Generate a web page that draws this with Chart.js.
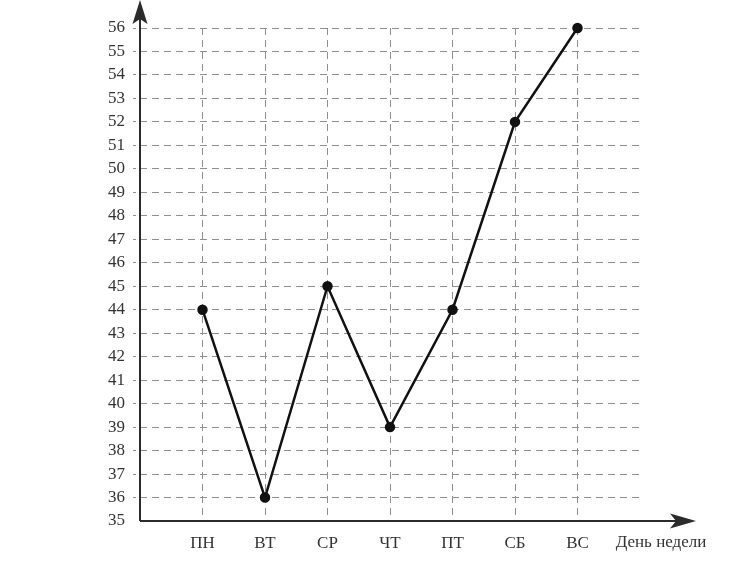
<!DOCTYPE html>
<html>
<head>
<meta charset="utf-8">
<script src="https://cdn.jsdelivr.net/npm/chart.js@4.4.0/dist/chart.umd.min.js"></script>
<style>
  html, body { margin: 0; padding: 0; background: #fff; }
  #wrap { width: 731px; height: 563px; }
</style>
</head>
<body>
<div id="wrap"><canvas id="chart" width="731" height="563"></canvas></div>
<script>
const days = ["ПН", "ВТ", "СР", "ЧТ", "ПТ", "СБ", "ВС"];
const values = [44, 36, 45, 39, 44, 52, 56];
const yMin = 35, yMax = 56;
const xAxisTitle = "День недели";

const FONT = "'Liberation Serif', 'DejaVu Serif', serif";
const GRID = "#8f8f8f";
const AXIS = "#2b2b2b";
const DASH = [7, 5];

// axes with arrow heads + x axis caption
const arrowAxes = {
  id: "arrowAxes",
  afterDraw(chart) {
    const { ctx, chartArea } = chart;
    const x0 = chartArea.left, y0 = chartArea.bottom;
    ctx.save();
    ctx.strokeStyle = AXIS;
    ctx.fillStyle = AXIS;
    ctx.lineWidth = 2;
    ctx.beginPath();
    ctx.moveTo(x0, y0);
    ctx.lineTo(x0, 12);
    ctx.moveTo(x0, y0);
    ctx.lineTo(685, y0);
    ctx.stroke();

    // up arrow
    ctx.beginPath();
    ctx.moveTo(x0, 0);
    ctx.lineTo(x0 + 7.5, 24);
    ctx.lineTo(x0, 19);
    ctx.lineTo(x0 - 7.5, 24);
    ctx.closePath();
    ctx.fill();

    // right arrow
    ctx.beginPath();
    ctx.moveTo(696, y0);
    ctx.lineTo(670, y0 - 7.5);
    ctx.lineTo(676, y0);
    ctx.lineTo(670, y0 + 7.5);
    ctx.closePath();
    ctx.fill();

    ctx.font = "17px " + FONT;
    ctx.fillStyle = "#333";
    ctx.textAlign = "center";
    ctx.textBaseline = "middle";
    ctx.fillText(xAxisTitle, 661, 543);
    ctx.restore();
  }
};

new Chart(document.getElementById("chart"), {
  type: "line",
  data: {
    datasets: [{
      data: days.map((d, i) => ({ x: i + 1, y: values[i] })),
      borderColor: "#111",
      borderWidth: 2.5,
      pointRadius: 4,
      pointBackgroundColor: "#111",
      pointBorderColor: "#111",
      clip: false,
      tension: 0
    }]
  },
  options: {
    responsive: false,
    animation: false,
    layout: { padding: { left: 0, right: 91, top: 28, bottom: 0 } },
    plugins: { legend: { display: false }, tooltip: { enabled: false } },
    scales: {
      x: {
        type: "linear",
        min: 0,
        max: 8,
        afterFit(s) { s.height = 42; },
        ticks: {
          stepSize: 1,
          autoSkip: false,
          maxRotation: 0,
          padding: 12,
          color: "#333",
          font: { family: FONT, size: 17 },
          callback: v => days[v - 1] || ""
        },
        grid: {
          drawTicks: false,
          color: c => (c.tick && c.tick.value >= 1 && c.tick.value <= 7) ? GRID : "rgba(0,0,0,0)",
          lineWidth: 1
        },
        border: { display: false, dash: DASH }
      },
      y: {
        min: yMin,
        max: yMax,
        afterFit(s) { s.width = 140; },
        ticks: {
          stepSize: 1,
          autoSkip: false,
          padding: 8,
          color: "#333",
          font: { family: FONT, size: 17 },
          callback: v => v
        },
        grid: {
          color: c => (c.tick && c.tick.value > yMin) ? GRID : "rgba(0,0,0,0)",
          tickColor: c => (c.tick && c.tick.value > yMin) ? GRID : "rgba(0,0,0,0)",
          tickLength: 7,
          tickBorderDash: [3, 4],
          lineWidth: 1
        },
        border: { display: false, dash: DASH }
      }
    }
  },
  plugins: [arrowAxes]
});
</script>
</body>
</html>
